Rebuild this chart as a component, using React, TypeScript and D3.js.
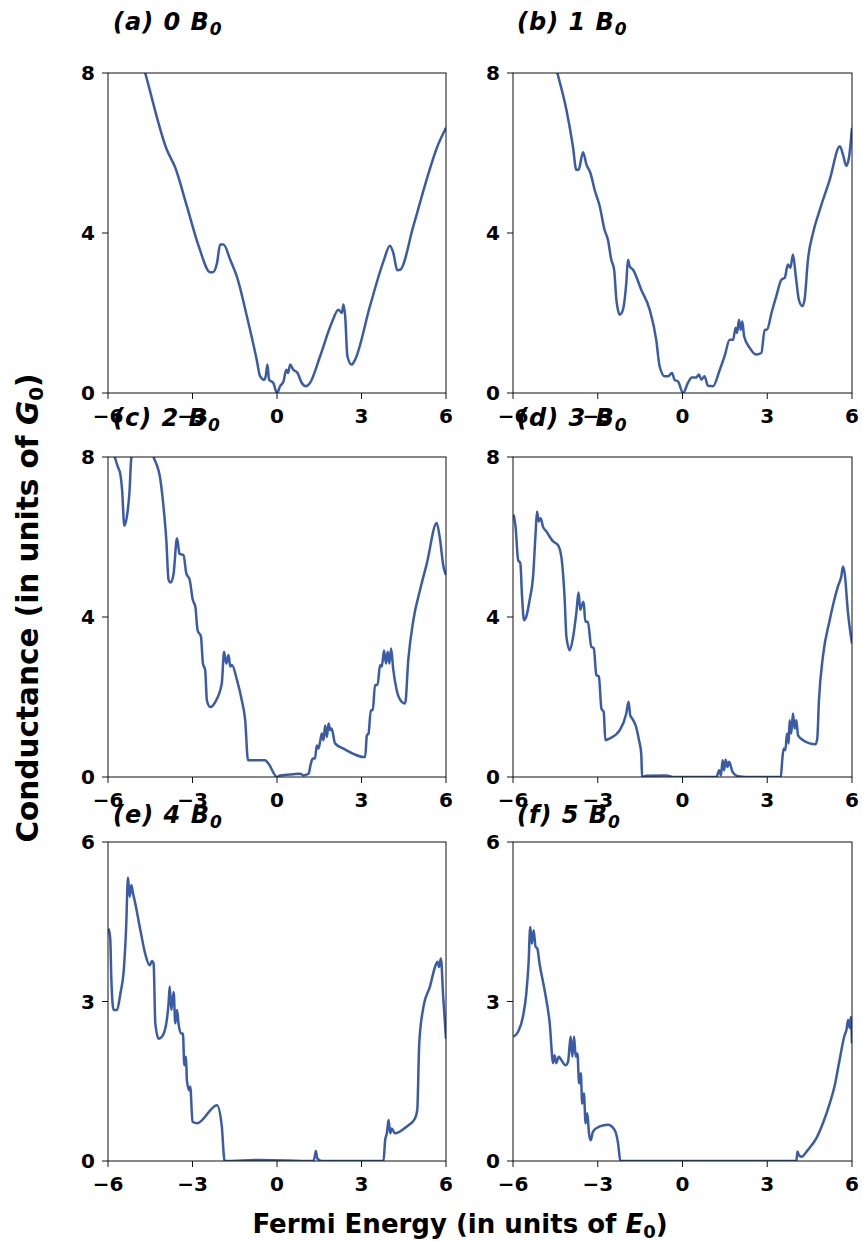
import React from "react";
import * as d3 from "d3";

// ---------- data ----------
const energyA = [-6, -5.2, -4.68, -3.91, -3.61, -3.2, -2.78, -2.37, -2.28, -2.13, -2.02, -1.9, -1.66, -1.43, -1.07, -0.72, -0.6, -0.46, -0.4, -0.34, -0.28, -0.13, 0.0, 0.11, 0.23, 0.33, 0.39, 0.47, 0.58, 0.73, 0.88, 1.03, 1.17, 1.53, 1.94, 2.18, 2.3, 2.36, 2.42, 2.5, 2.65, 2.77, 3.3, 3.78, 4.01, 4.13, 4.27, 4.37, 4.84, 5.31, 5.67, 6.0];
const condA = [11.0, 9.3, 8.0, 6.08, 5.63, 4.67, 3.67, 3.02, 3.02, 3.25, 3.71, 3.71, 3.33, 2.92, 1.92, 0.83, 0.42, 0.33, 0.42, 0.71, 0.33, 0.25, 0.0, 0.17, 0.29, 0.58, 0.5, 0.71, 0.58, 0.5, 0.25, 0.17, 0.25, 0.92, 1.75, 2.08, 2.0, 2.21, 1.92, 0.92, 0.71, 0.83, 2.17, 3.29, 3.68, 3.5, 3.07, 3.08, 4.17, 5.33, 6.12, 6.63];

const energyB = [-6, -5.0, -4.43, -4.11, -3.88, -3.76, -3.68, -3.52, -3.4, -3.26, -3.11, -2.93, -2.76, -2.64, -2.52, -2.42, -2.34, -2.22, -2.11, -1.99, -1.93, -1.87, -1.75, -1.46, -1.16, -0.93, -0.81, -0.63, -0.51, -0.37, -0.28, -0.16, 0.02, 0.19, 0.33, 0.49, 0.58, 0.67, 0.78, 0.9, 1.08, 1.32, 1.49, 1.67, 1.79, 1.88, 1.93, 2.0, 2.06, 2.12, 2.18, 2.38, 2.61, 2.79, 2.91, 2.99, 3.15, 3.32, 3.5, 3.62, 3.73, 3.82, 3.91, 4.01, 4.12, 4.24, 4.32, 4.44, 4.62, 4.86, 5.21, 5.57, 5.68, 5.8, 5.9, 6.0];
const condB = [12.0, 9.5, 8.0, 7.08, 6.17, 5.58, 5.58, 6.02, 5.71, 5.5, 5.08, 4.67, 4.08, 3.83, 3.33, 3.08, 2.33, 1.96, 2.08, 2.75, 3.33, 3.17, 3.08, 2.58, 2.08, 1.33, 0.67, 0.42, 0.42, 0.5, 0.33, 0.29, 0.0, 0.25, 0.39, 0.39, 0.46, 0.33, 0.42, 0.18, 0.17, 0.58, 0.92, 1.33, 1.33, 1.63, 1.5, 1.83, 1.58, 1.79, 1.42, 1.13, 0.96, 1.0, 1.58, 1.58, 2.0, 2.42, 2.83, 2.88, 3.21, 3.13, 3.46, 2.92, 2.33, 2.17, 2.33, 3.33, 4.0, 4.58, 5.33, 6.17, 5.96, 5.68, 5.92, 6.63];

const energyC = [-6, -5.76, -5.66, -5.56, -5.5, -5.42, -5.33, -5.24, -5.17, -4.8, -4.38, -4.14, -4.03, -3.93, -3.85, -3.77, -3.67, -3.55, -3.46, -3.32, -3.22, -3.1, -2.99, -2.9, -2.82, -2.7, -2.63, -2.55, -2.49, -2.37, -2.19, -1.96, -1.88, -1.8, -1.72, -1.66, -1.6, -1.42, -1.25, -1.13, -1.03, -0.89, -0.42, -0.3, 0.0, 0.11, 0.59, 0.82, 0.94, 1.12, 1.2, 1.27, 1.35, 1.41, 1.47, 1.53, 1.59, 1.65, 1.71, 1.77, 1.83, 1.89, 1.94, 2.06, 2.36, 2.71, 3.07, 3.13, 3.19, 3.25, 3.33, 3.4, 3.48, 3.57, 3.66, 3.72, 3.8, 3.87, 3.93, 3.99, 4.05, 4.13, 4.25, 4.43, 4.55, 4.66, 4.84, 5.08, 5.32, 5.67, 5.79, 5.91, 6.0];
const condC = [8.6, 8.0, 7.77, 7.56, 7.18, 6.28, 6.51, 7.1, 8.0, 8.8, 8.0, 7.43, 6.76, 5.93, 4.93, 4.86, 5.09, 5.97, 5.58, 5.55, 5.09, 4.93, 4.43, 4.26, 3.67, 3.51, 2.84, 2.67, 1.92, 1.75, 1.88, 2.34, 3.13, 2.84, 3.05, 2.76, 2.8, 2.42, 1.92, 1.42, 0.42, 0.42, 0.42, 0.33, 0.0, 0.04, 0.07, 0.08, 0.04, 0.08, 0.33, 0.46, 0.46, 0.79, 0.71, 0.88, 1.09, 0.92, 1.29, 1.0, 1.34, 1.17, 1.21, 0.84, 0.71, 0.58, 0.5, 0.5, 1.04, 1.09, 1.67, 1.67, 2.3, 2.3, 2.8, 2.76, 3.16, 2.84, 3.13, 2.84, 3.21, 2.67, 2.17, 1.88, 1.84, 2.92, 3.92, 4.68, 5.34, 6.35, 5.93, 5.26, 5.05];

const energyD = [-5.98, -5.91, -5.82, -5.74, -5.68, -5.61, -5.53, -5.41, -5.29, -5.2, -5.15, -5.09, -5.02, -4.94, -4.82, -4.58, -4.41, -4.29, -4.17, -4.11, -3.99, -3.88, -3.76, -3.68, -3.62, -3.56, -3.5, -3.44, -3.35, -3.23, -3.14, -3.05, -2.96, -2.87, -2.79, -2.73, -2.58, -2.22, -1.99, -1.91, -1.85, -1.78, -1.66, -1.54, -1.46, -1.43, -1.28, -0.57, -0.34, 1.2, 1.3, 1.36, 1.42, 1.47, 1.53, 1.59, 1.65, 1.77, 1.96, 2.26, 3.48, 3.52, 3.58, 3.64, 3.7, 3.76, 3.79, 3.85, 3.91, 3.97, 4.03, 4.09, 4.27, 4.5, 4.71, 4.77, 4.83, 4.97, 5.21, 5.5, 5.62, 5.68, 5.74, 5.86, 6.0];
const condD = [6.56, 6.26, 5.43, 5.34, 4.51, 3.92, 4.01, 4.43, 5.01, 6.1, 6.64, 6.39, 6.47, 6.26, 6.14, 5.89, 5.8, 5.51, 4.43, 3.51, 3.17, 3.47, 4.09, 4.61, 4.18, 4.3, 4.38, 3.88, 3.88, 3.26, 3.22, 2.55, 2.51, 1.71, 1.63, 0.92, 0.96, 1.17, 1.59, 1.88, 1.54, 1.46, 1.29, 0.92, 0.58, 0.0, 0.03, 0.04, 0.0, 0.0, 0.17, 0.04, 0.42, 0.17, 0.43, 0.25, 0.38, 0.13, 0.02, 0.0, 0.0, 0.33, 0.71, 0.67, 1.09, 0.84, 1.42, 1.09, 1.59, 1.21, 1.42, 1.04, 0.92, 0.84, 0.82, 0.96, 1.92, 3.01, 3.92, 4.76, 5.01, 5.26, 5.09, 4.09, 3.34];

const energyE = [-5.98, -5.92, -5.88, -5.8, -5.68, -5.56, -5.44, -5.36, -5.29, -5.23, -5.17, -5.11, -5.03, -4.85, -4.68, -4.52, -4.44, -4.38, -4.32, -4.2, -4.08, -3.93, -3.85, -3.81, -3.75, -3.67, -3.61, -3.55, -3.49, -3.41, -3.34, -3.29, -3.23, -3.2, -3.12, -3.08, -3.0, -2.84, -2.13, -1.96, -1.86, -0.6, 1.29, 1.35, 1.38, 1.43, 1.59, 3.78, 3.84, 3.9, 3.96, 4.02, 4.07, 4.19, 4.61, 4.9, 4.98, 5.05, 5.2, 5.43, 5.61, 5.7, 5.75, 5.82, 5.9, 6.0];
const condE = [4.37, 4.18, 3.4, 2.84, 2.84, 3.15, 3.59, 4.34, 5.33, 4.97, 5.19, 5.03, 4.84, 4.34, 3.9, 3.68, 3.76, 3.71, 2.59, 2.3, 2.34, 2.59, 2.96, 3.28, 2.84, 3.18, 2.59, 2.84, 2.56, 2.4, 2.4, 1.8, 1.96, 1.52, 1.33, 1.4, 0.74, 0.71, 1.05, 0.65, 0.0, 0.02, 0.0, 0.11, 0.19, 0.05, 0.0, 0.0, 0.39, 0.52, 0.77, 0.52, 0.61, 0.52, 0.65, 0.8, 0.96, 2.21, 2.9, 3.28, 3.65, 3.75, 3.65, 3.81, 3.09, 2.3];

const energyF = [-5.98, -5.82, -5.65, -5.53, -5.45, -5.39, -5.33, -5.27, -5.2, -5.14, -5.06, -4.88, -4.7, -4.58, -4.53, -4.47, -4.38, -4.29, -4.14, -4.05, -3.96, -3.9, -3.84, -3.78, -3.72, -3.66, -3.6, -3.55, -3.49, -3.43, -3.37, -3.31, -3.25, -3.17, -2.93, -2.64, -2.4, -2.28, -2.2, 4.03, 4.07, 4.12, 4.21, 4.44, 4.74, 4.97, 5.21, 5.38, 5.56, 5.74, 5.8, 5.86, 5.92, 5.96, 6.0];
const condF = [2.34, 2.43, 2.71, 3.15, 3.71, 4.4, 4.09, 4.34, 4.03, 4.0, 3.71, 3.21, 2.59, 1.84, 1.99, 1.84, 1.96, 1.9, 1.8, 1.87, 2.34, 1.96, 2.34, 1.96, 2.02, 1.46, 1.65, 1.08, 1.27, 0.71, 0.9, 0.52, 0.39, 0.55, 0.65, 0.68, 0.58, 0.33, 0.0, 0.0, 0.18, 0.11, 0.08, 0.21, 0.43, 0.71, 1.08, 1.4, 1.9, 2.37, 2.46, 2.65, 2.5, 2.71, 2.21];

const panelTitles = ["(a) 0 ", "(b) 1 ", "(c) 2 ", "(d) 3 ", "(e) 4 ", "(f) 5 "];
const xTicks = [-6, -3, 0, 3, 6];
const yTicksTop = [0, 4, 8];
const yTicksBottom = [0, 3, 6];
const xLabelText = "Fermi Energy (in units of ";
const yLabelText = "Conductance (in units of ";

const series = [
  { x: energyA, y: condA, yMax: 8, yTicks: yTicksTop },
  { x: energyB, y: condB, yMax: 8, yTicks: yTicksTop },
  { x: energyC, y: condC, yMax: 8, yTicks: yTicksTop },
  { x: energyD, y: condD, yMax: 8, yTicks: yTicksTop },
  { x: energyE, y: condE, yMax: 6, yTicks: yTicksBottom },
  { x: energyF, y: condF, yMax: 6, yTicks: yTicksBottom },
];

// ---------- layout ----------
const W = 862;
const H = 1241;
const colX = [[108, 446], [513, 852]];
const rowY = [[73, 393], [457, 777], [842, 1161]];
const titleBase = [30, 426, 823];
const titleX = [113, 517];
const LINE = "#3a5ca6";
const FONT = "'DejaVu Sans', sans-serif";
const TICK_FS = 20;

export default function App() {
  return (
    <svg width={W} height={H} style={{ position: "absolute", left: 0, top: 0, background: "#fff" }} fontFamily={FONT}>
      <defs>
        {series.map((s, i) => {
          const c = i % 2, r = Math.floor(i / 2);
          return (
            <clipPath id={`clip${i}`} key={i}>
              <rect x={colX[c][0]} y={rowY[r][0]} width={colX[c][1] - colX[c][0]} height={rowY[r][1] - rowY[r][0]} />
            </clipPath>
          );
        })}
      </defs>
      {series.map((s, i) => {
        const c = i % 2, r = Math.floor(i / 2);
        const xs = d3.scaleLinear().domain([-6, 6]).range(colX[c]);
        const ys = d3.scaleLinear().domain([0, s.yMax]).range([rowY[r][1], rowY[r][0]]);
        const pts: [number, number][] = s.x.map((v, k) => [v, s.y[k]]);
        const line = d3.line<[number, number]>().x(d => xs(d[0])).y(d => ys(d[1])).curve(d3.curveMonotoneX);
        const [x0, x1] = colX[c];
        const [y0, y1] = rowY[r];
        return (
          <g key={i}>
            <path d={line(pts) || ""} fill="none" stroke={LINE} strokeWidth={2.5} strokeLinejoin="round" clipPath={`url(#clip${i})`} />
            <rect x={x0} y={y0} width={x1 - x0} height={y1 - y0} fill="none" stroke="#111" strokeWidth={1} />
            {xTicks.map(t => (
              <g key={"x" + t}>
                <line x1={xs(t)} x2={xs(t)} y1={y1} y2={y1 + 6} stroke="#111" strokeWidth={1} />
                <text x={xs(t)} y={y1 + 30} textAnchor="middle" fontSize={TICK_FS} fontWeight="bold">
                  {t < 0 ? "\u2212" + Math.abs(t) : String(t)}
                </text>
              </g>
            ))}
            {s.yTicks.map(t => (
              <g key={"y" + t}>
                <line x1={x0 - 6} x2={x0} y1={ys(t)} y2={ys(t)} stroke="#111" strokeWidth={1} />
                <text x={x0 - 13} y={ys(t) + 7} textAnchor="end" fontSize={TICK_FS} fontWeight="bold">{t}</text>
              </g>
            ))}
            <text x={titleX[c]} y={titleBase[r]} fontSize={24} fontWeight="bold" fontStyle="italic" letterSpacing={1}>
              {panelTitles[i]}
              <tspan>B</tspan>
              <tspan fontSize={17} dy={5}>0</tspan>
            </text>
          </g>
        );
      })}
      <text x={460} y={1233} textAnchor="middle" fontSize={26} fontWeight="bold">
        {xLabelText}
        <tspan fontStyle="italic">E</tspan>
        <tspan fontSize={18} dy={5}>0</tspan>
        <tspan dy={-5}>)</tspan>
      </text>
      <text transform="translate(38,608) rotate(-90)" textAnchor="middle" fontSize={29.5} fontWeight="bold">
        {yLabelText}
        <tspan fontStyle="italic">G</tspan>
        <tspan fontSize={20} dy={5}>0</tspan>
        <tspan dy={-5}>)</tspan>
      </text>
    </svg>
  );
}
